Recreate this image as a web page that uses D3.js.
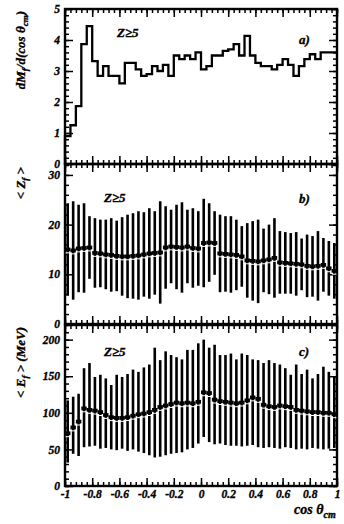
<!DOCTYPE html>
<html><head><meta charset="utf-8">
<script src="https://cdn.jsdelivr.net/npm/d3@7/dist/d3.min.js"></script>
<style>
body{margin:0;background:#fff}
svg text{font-family:"Liberation Serif","DejaVu Serif",serif;font-weight:bold;font-style:italic;fill:#000;stroke:#000;stroke-width:0.35px}
</style>
</head><body>
<svg id="chart" width="344" height="524"></svg>
<script>
// ---------- data ----------
const xMajor = [-1,-0.8,-0.6,-0.4,-0.2,0,0.2,0.4,0.6,0.8,1];
const xMajorLabels = ["-1","-0.8","-0.6","-0.4","-0.2","0","0.2","0.4","0.6","0.8","1"];
const binLow = d3.range(50).map(i => -1 + i*0.04);   // 50 bins of width 0.04

const aYTicks = [0,1,2,3,4,5];
const bYTicks = [0,10,20,30];
const cYTicks = [0,50,100,150,200];

// a) dM_f/d(cos theta_cm)
const dMdcos = [0.9,1.25,1.87,3.87,4.45,3.32,2.84,3.16,2.84,2.84,
                2.6,3.26,3.26,3.05,2.84,2.9,3.16,3.0,3.2,2.84,
                3.5,3.38,3.5,3.38,3.6,3.05,3.16,3.5,3.5,3.65,
                3.7,3.87,3.5,4.13,3.5,3.26,3.16,3.16,3.05,3.2,
                3.38,3.2,2.84,3.16,3.38,3.54,3.38,3.6,3.6,3.6];

// b) <Z_f> mean and error
const zMean = [15.0,14.8,15.2,15.3,15.4,14.3,14.2,14.0,13.9,13.7,
               13.6,13.6,13.7,13.8,14.0,14.2,14.3,14.4,15.4,15.6,
               15.5,15.4,15.6,15.3,15.2,16.3,16.4,16.3,14.2,14.1,
               14.0,13.9,13.6,12.8,12.7,12.6,12.8,13.0,13.3,12.4,
               12.3,12.2,12.1,12.0,11.7,11.6,11.7,11.9,11.2,10.7];
const zErr  = [9.3,9.9,8.8,9.0,6.3,7.0,6.8,7.0,7.4,7.1,
               7.9,8.4,8.6,8.9,8.5,9.1,8.4,10.3,8.3,7.4,
               8.5,9.1,7.4,8.0,7.5,8.9,7.9,6.4,7.8,7.6,
               7.7,7.1,6.1,7.5,8.0,8.4,6.4,7.0,8.0,6.3,
               6.2,6.1,6.4,5.2,6.3,6.1,7.0,5.4,5.5,5.6];

// c) <E_f> (MeV) mean, bar top, bar bottom
const eMean = [72,80,88,106,104,103,101,97,94,93,
               93,94,96,98,99,101,104,108,110,112,
               114,113,114,113,115,128,127,118,116,115,
               114,113,114,117,121,119,111,109,108,110,
               109,108,104,103,102,101,101,100,100,98];
const eTop  = [117,122,126,161,168,149,152,147,138,152,
               149,153,159,156,162,166,189,172,184,179,
               176,173,186,186,195,200,189,193,179,179,
               181,173,181,179,173,172,168,172,168,166,
               161,152,166,153,159,147,153,163,156,150];
const eBot  = [32,44,41,53,54,55,51,52,50,49,
               51,48,50,47,45,42,39,40,42,44,
               45,46,50,52,58,67,60,57,58,56,
               55,55,54,55,56,53,52,53,52,51,
               53,52,50,51,50,52,51,50,51,52];

// ---------- layout ----------
const svg = d3.select('#chart');
const x = d3.scaleLinear().domain([-1,1]).range([65,337]);
const binW = 0.04;
const xMinor = d3.range(51).map(i => -1 + i*binW);

const panels = [
  {top:9,   bottom:164, dom:[0,5],    maj:aYTicks, minStep:0.2, tag:"a)"},
  {top:164, bottom:324, dom:[0,32.2], maj:bYTicks, minStep:2,   tag:"b)"},
  {top:325, bottom:486, dom:[0,220],  maj:cYTicks, minStep:10,  tag:"c)"}
];

function styleAxis(g){
  g.select('.domain').remove();
  g.selectAll('.tick line').attr('stroke','#000').attr('stroke-width',1.5);
  g.selectAll('.tick text').attr('font-family',null).attr('font-size',11.5)
   .attr('fill','#000');
}

panels.forEach((p,pi) => {
  p.y = d3.scaleLinear().domain(p.dom).range([p.bottom,p.top]);
  const g = svg.append('g');
  const yMin = d3.range(p.dom[0], p.dom[1]+1e-9, p.minStep);
  // bottom
  g.append('g').attr('transform',`translate(0,${p.bottom})`)
    .call(d3.axisBottom(x).tickValues(xMinor).tickSize(-4).tickFormat('')).call(styleAxis);
  g.append('g').attr('transform',`translate(0,${p.bottom})`)
    .call(d3.axisBottom(x).tickValues(xMajor).tickSize(-8).tickPadding(4)
      .tickFormat((d,i) => pi===2 ? xMajorLabels[i] : '')).call(styleAxis);
  // top
  g.append('g').attr('transform',`translate(0,${p.top})`)
    .call(d3.axisTop(x).tickValues(xMinor).tickSize(-4).tickFormat('')).call(styleAxis);
  g.append('g').attr('transform',`translate(0,${p.top})`)
    .call(d3.axisTop(x).tickValues(xMajor).tickSize(-8).tickFormat('')).call(styleAxis);
  // left
  g.append('g').attr('transform',`translate(${x.range()[0]},0)`)
    .call(d3.axisLeft(p.y).tickValues(yMin).tickSize(-4).tickFormat('')).call(styleAxis);
  g.append('g').attr('transform',`translate(${x.range()[0]},0)`)
    .call(d3.axisLeft(p.y).tickValues(p.maj).tickSize(-8).tickPadding(5).tickFormat(d3.format('d'))).call(styleAxis);
  // right
  g.append('g').attr('transform',`translate(${x.range()[1]},0)`)
    .call(d3.axisRight(p.y).tickValues(yMin).tickSize(-4).tickFormat('')).call(styleAxis);
  g.append('g').attr('transform',`translate(${x.range()[1]},0)`)
    .call(d3.axisRight(p.y).tickValues(p.maj).tickSize(-8).tickFormat('')).call(styleAxis);
  // frame
  g.append('rect').attr('x',x.range()[0]).attr('y',p.top)
    .attr('width',x.range()[1]-x.range()[0]).attr('height',p.bottom-p.top)
    .attr('fill','none').attr('stroke','#000').attr('stroke-width',2.4);
  // annotations
  svg.append('text').attr('x', pi===0 ? 117 : 104).attr('y', p.top + (pi===0?28:(pi===1?38:31)))
    .attr('font-size',13).text('Z≥5');
  svg.append('text').attr('x',299).attr('y', p.top + (pi===0?35:(pi===1?39:31)))
    .attr('font-size',13).text(p.tag);
});

// ---------- panel a: histogram ----------
const pa = panels[0];
const histPts = [[-1,0]].concat(binLow.map((b,i)=>[b,dMdcos[i]])).concat([[1,dMdcos[dMdcos.length-1]]]);
svg.append('path')
  .attr('d', d3.line().x(d=>x(d[0])).y(d=>pa.y(d[1])).curve(d3.curveStepAfter)(histPts))
  .attr('fill','none').attr('stroke','#000').attr('stroke-width',2.3);

// ---------- panels b,c: error bars + means ----------
function drawErr(p, mean, lo, hi){
  const g = svg.append('g');
  g.selectAll('line.err').data(mean).join('line')
    .attr('x1',(d,i)=>x(binLow[i]+binW/2)).attr('x2',(d,i)=>x(binLow[i]+binW/2))
    .attr('y1',(d,i)=>p.y(lo[i])).attr('y2',(d,i)=>p.y(hi[i]))
    .attr('stroke','#000').attr('stroke-width',2.6);
  g.selectAll('line.mean').data(mean).join('line')
    .attr('x1',(d,i)=>x(binLow[i])).attr('x2',(d,i)=>x(binLow[i]+binW))
    .attr('y1',d=>p.y(d)).attr('y2',d=>p.y(d))
    .attr('stroke','#000').attr('stroke-width',3.8);
  g.selectAll('line.gap').data(mean).join('line')
    .attr('x1',(d,i)=>x(binLow[i])+0.6).attr('x2',(d,i)=>x(binLow[i]+binW)-0.6)
    .attr('y1',d=>p.y(d)+3.4).attr('y2',d=>p.y(d)+3.4)
    .attr('stroke','#fff').attr('stroke-width',1);
}
drawErr(panels[1], zMean, zMean.map((m,i)=>m-zErr[i]), zMean.map((m,i)=>m+zErr[i]));
drawErr(panels[2], eMean, eBot, eTop);

// ---------- axis titles ----------
function vTitle(xp, yp, parts){
  const t = svg.append('text').attr('transform',`translate(${xp},${yp}) rotate(-90)`)
    .attr('text-anchor','end').attr('font-size',13);
  parts.forEach(([s,sub]) => {
    t.append('tspan').attr('baseline-shift', sub ? '-30%' : null)
     .attr('font-size', sub ? 9 : null).text(s);
  });
}
vTitle(25, 11, [["dM",0],["f",1],["/d(cos θ",0],["cm",1],[")",0]]);
vTitle(25, 167, [["< Z",0],["f",1],[" >",0]]);
vTitle(25, 327, [["< E",0],["f",1],[" > (MeV)",0]]);

const xt = svg.append('text').attr('x',294).attr('y',514).attr('font-size',14);
xt.append('tspan').text('cos θ');
xt.append('tspan').attr('baseline-shift','-35%').attr('font-size',10).text('cm');
</script>
</body></html>
